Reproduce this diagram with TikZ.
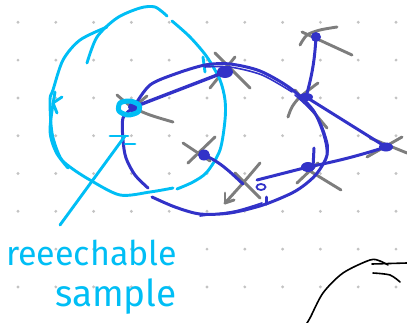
\documentclass[tikz,border=0pt]{standalone}
\usepackage{fontspec}
\setmainfont{Fira Sans}
\usetikzlibrary{backgrounds,shapes.geometric}
\definecolor{sky}{RGB}{0,190,245}
\definecolor{ink}{RGB}{50,50,200}
\definecolor{crossgray}{RGB}{125,125,125}
\definecolor{griddot}{RGB}{195,195,195}
\begin{document}
\begin{tikzpicture}[x=1pt,y=-1pt,
  sky/.style={draw=sky, line width=2.9pt, line cap=round, line join=round},
  ink/.style={draw=ink, line width=3pt, line cap=round, line join=round},
  thinink/.style={draw=ink, line width=1.6pt, line cap=round, line join=round},
  cross/.style={draw=crossgray, line width=2.9pt, line cap=round},
  vtx/.style={ellipse, fill=ink, inner sep=0pt, minimum width=12pt, minimum height=11pt},
  label/.style={text=sky, anchor=base west, inner sep=0pt},
]
\useasboundingbox (0,0) rectangle (407,322);

% vertices of the graph
\node[vtx] (A) at (134,107) {};
\node[vtx, minimum width=16pt, minimum height=12pt] (B) at (225,72) {};
\node[vtx, minimum width=10pt, minimum height=10pt] (C) at (316,37) {};
\node[vtx, minimum width=14pt, minimum height=8pt] (D) at (306,97) {};
\node[vtx, minimum width=14pt, minimum height=9pt] (E) at (386,147) {};
\node[vtx, minimum width=14pt, minimum height=10pt] (F) at (308,167) {};
\node[vtx] (G) at (204,155) {};
\node[ellipse, draw=ink, line width=1.8pt, inner sep=0pt, minimum width=9pt, minimum height=6pt] (H) at (261,187) {};
\coordinate (hx) at (243,184);
\coordinate (fx) at (257,180);

\begin{scope}[on background layer]
  % dotted paper
  \foreach \i in {0,...,10}
    \foreach \j in {0,...,7}
      \fill[griddot] (18+37.8*\i, 22.3+37.8*\j) circle (1.6pt);

  % gray crosses
  \draw[cross] plot[smooth] coordinates {(117,95) (132,107) (150,115) (173,122)};
  \draw[cross] (147,96) -- (130,110);
  \draw[cross] (215,53) -- (250,88);
  \draw[cross] (235,57) -- (210,88);
  \draw[cross] (302,32) -- (352,55);
  \draw[cross] plot[smooth] coordinates {(337,27) (320,30) (307,35) (300,45)};
  \draw[cross] (295,90) -- (327,128);
  \draw[cross] plot[smooth] coordinates {(318,83) (300,97) (292,107) (288,117)};
  \draw[cross] (370,138) -- (407,153);
  \draw[cross] (402,137) -- (367,157);
  \draw[cross] (297,183) -- (318,163);
  \draw[cross] (305,168) -- (341,190);
  \draw[cross] (183,143) -- (210,161);
  \draw[cross] (215,137) -- (188,163);
  \draw[cross] (235,173) -- (260,198);
  \draw[cross] plot[smooth] coordinates {(260,163) (243,183) (225,203)};
  \draw[cross] (225,203) -- (225,193);
  \draw[cross] (225,203) -- (234,200);

  % reachable region
  \draw[sky] plot[smooth] coordinates {(87,63) (97,37) (117,18) (140,8) (155,7) (167,16)};
  \draw[sky] plot[smooth] coordinates {(107,27) (80,40) (63,60) (53,90) (50,100) (52,133) (60,157) (70,167) (90,180) (120,195) (150,192) (173,188)};
  \draw[sky] plot[smooth] coordinates {(172,21) (190,37) (207,57) (220,80) (225,100) (225,120) (220,150) (207,172) (193,182) (177,189)};
  \draw[sky] plot[smooth] coordinates {(55,92) (50,130) (56,152) (68,168)};
  \draw[sky] (203,57) -- (205,72);
  \draw[sky] plot coordinates {(62,97) (53,103) (57,113)};

  % loop and edges
  \draw[ink] plot[smooth] coordinates {(135,105) (150,85) (175,74) (205,65) (230,64) (260,71) (290,88) (313,110) (324,135) (327,155) (318,172) (307,183) (292,193) (263,205) (230,213) (200,214) (175,207) (152,197)};
  \draw[ink] plot[smooth] coordinates {(133,108) (123,118) (123,140) (126,158) (135,175) (148,188)};
  \draw[thinink] plot[smooth] coordinates {(205,67) (230,67) (262,75) (292,92)};
  \draw[thinink] plot[smooth] coordinates {(295,95) (318,118) (328,145) (326,160)};
  \draw[thinink] plot[smooth] coordinates {(200,216) (235,211) (262,203)};
  \draw[ink] (314,148) -- (313,168);
  \draw[ink] (266,197) -- (266,204);
  \draw[ink, line width=3.4pt] (A.center) -- (B.center);
  \draw[ink] (C.center) to[bend left=6] (D.center);
  \draw[ink] (D.center) -- (E.center);
  \draw[ink] (E.center) to[bend left=3] (F.center);
  \draw[ink] (fx) -- (F.center);
  \draw[ink] (G.center) .. controls (220,162) and (228,170) .. (hx);
\end{scope}

% reachable sample marker and its label
\draw[sky, line width=5pt] plot[smooth cycle] coordinates {(120,103) (130,101) (139,105) (138,112) (128,115) (119,111)};
\coordinate (tick) at (125,136);
\coordinate (tail) at (60,225);
\draw[sky] (110,136) -- (128,136);
\draw[sky] (125,144) -- (135,144);
\draw[sky] (tick) -- (tail);
\node[label, font=\fontsize{34}{34}\selectfont] (w1) at (6,265) {reeechable};
\node[label, font=\fontsize{37}{37}\selectfont] (w2) at (55,306) {sample};

% corner arc
\draw[black, line width=1.6pt, line cap=round] plot[smooth] coordinates {(305,326) (310,318) (323,293) (343,273) (370,260) (380,261) (388,265)};
\draw[black, line width=1.6pt, line cap=round] (372,264) -- (407,263);
\draw[black, line width=1.6pt, line cap=round] plot[smooth] coordinates {(373,273) (390,275) (400,282)};
\end{tikzpicture}
\end{document}
